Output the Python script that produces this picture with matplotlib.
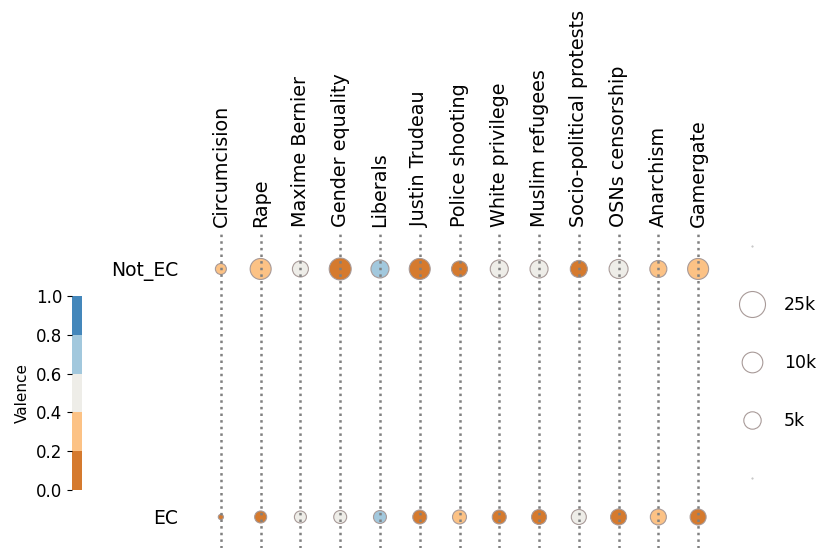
import matplotlib
matplotlib.use("Agg")
import matplotlib.pyplot as plt
import numpy as np
from matplotlib.colors import ListedColormap, BoundaryNorm
from matplotlib.lines import Line2D

topics = ["Circumcision", "Rape", "Maxime Bernier", "Gender equality", "Liberals",
          "Justin Trudeau", "Police shooting", "White privilege", "Muslim refugees",
          "Socio-political protests", "OSNs censorship", "Anarchism", "Gamergate"]
groups = ["EC", "Not_EC"]

# counts (tweets) per topic
not_ec_counts = [800, 10700, 3600, 12800, 5800, 10700, 3600, 5800, 5800, 4600, 7100, 4600, 10700]
ec_counts = [40, 1150, 1150, 1550, 1550, 2100, 2100, 2100, 2800, 2800, 3600, 3600, 3600]

# valence per topic
not_ec_valence = [0.3, 0.3, 0.5, 0.1, 0.7, 0.1, 0.1, 0.5, 0.5, 0.1, 0.5, 0.3, 0.3]
ec_valence = [0.1, 0.1, 0.5, 0.5, 0.7, 0.1, 0.3, 0.1, 0.1, 0.5, 0.1, 0.3, 0.1]

legend_counts = [25000, 10000, 5000]
legend_labels = ["25k", "10k", "5k"]

colors = ["#d57a2e", "#fcc285", "#eeede8", "#a2c8dd", "#4487bb"]
bounds = [0.0, 0.2, 0.4, 0.6, 0.8, 1.0]
cmap = ListedColormap(colors)
norm = BoundaryNorm(bounds, cmap.N)


def size_of(c):
    return 70 * np.sqrt(np.asarray(c, dtype=float) / 1000.0)


fig = plt.figure(figsize=(8.19, 5.5), dpi=100)
W, H = 819, 550
ax = fig.add_axes([201 / W, 2 / H, 517 / W, (548 - 233) / H])

x = np.arange(len(topics))
ax.scatter(x, np.ones_like(x), s=size_of(not_ec_counts), c=not_ec_valence, cmap=cmap, norm=norm,
           edgecolors="#a89a98", linewidths=0.8, zorder=2)
ax.scatter(x, np.zeros_like(x), s=size_of(ec_counts), c=ec_valence, cmap=cmap, norm=norm,
           edgecolors="#a89a98", linewidths=0.8, zorder=2)

ax.set_xlim(-0.5, len(topics) - 0.5)
ax.set_ylim(-0.125, 1.145)
ax.set_xticks(x)
ax.set_xticklabels(topics, rotation=90, fontsize=13.8)
ax.xaxis.tick_top()
ax.set_yticks([0, 1])
ax.set_yticklabels(groups, fontsize=13.5)
ax.tick_params(axis="both", length=0)
ax.tick_params(axis="x", pad=4)
ax.tick_params(axis="y", pad=16.5)
ax.grid(axis="x", linestyle=":", color="#808080", linewidth=1.8, zorder=3)
ax.set_axisbelow(False)
for sp in ax.spines.values():
    sp.set_visible(False)

# colorbar
cax = fig.add_axes([72 / W, (550 - 490) / H, 10 / W, 194 / H])
sm = matplotlib.cm.ScalarMappable(cmap=cmap, norm=norm)
cb = fig.colorbar(sm, cax=cax, ticks=bounds)
cb.outline.set_visible(False)
cax.yaxis.set_ticks_position("left")
cax.yaxis.set_label_position("left")
cax.set_yticklabels([f"{b:.1f}" for b in bounds], fontsize=12)
cb.set_label("Valence", fontsize=11)

# size legend
handles = [Line2D([], [], marker="o", linestyle="", markersize=0.5, markerfacecolor="#bbbbbb",
                  markeredgecolor="#bbbbbb")]
for c in legend_counts:
    handles.append(Line2D([], [], marker="o", linestyle="", markersize=np.sqrt(size_of(c)),
                          markerfacecolor="white", markeredgecolor="#a89a98", markeredgewidth=0.8))
handles.append(Line2D([], [], marker="o", linestyle="", markersize=0.5, markerfacecolor="#bbbbbb",
                      markeredgecolor="#bbbbbb"))
labels = [""] + legend_labels + [""]
fig.legend(handles, labels, loc="center", bbox_to_anchor=(775 / W, (550 - 363) / H),
           frameon=False, fontsize=12.5, labelspacing=2.3, handletextpad=0.85)

fig.savefig("out.png", dpi=100)
